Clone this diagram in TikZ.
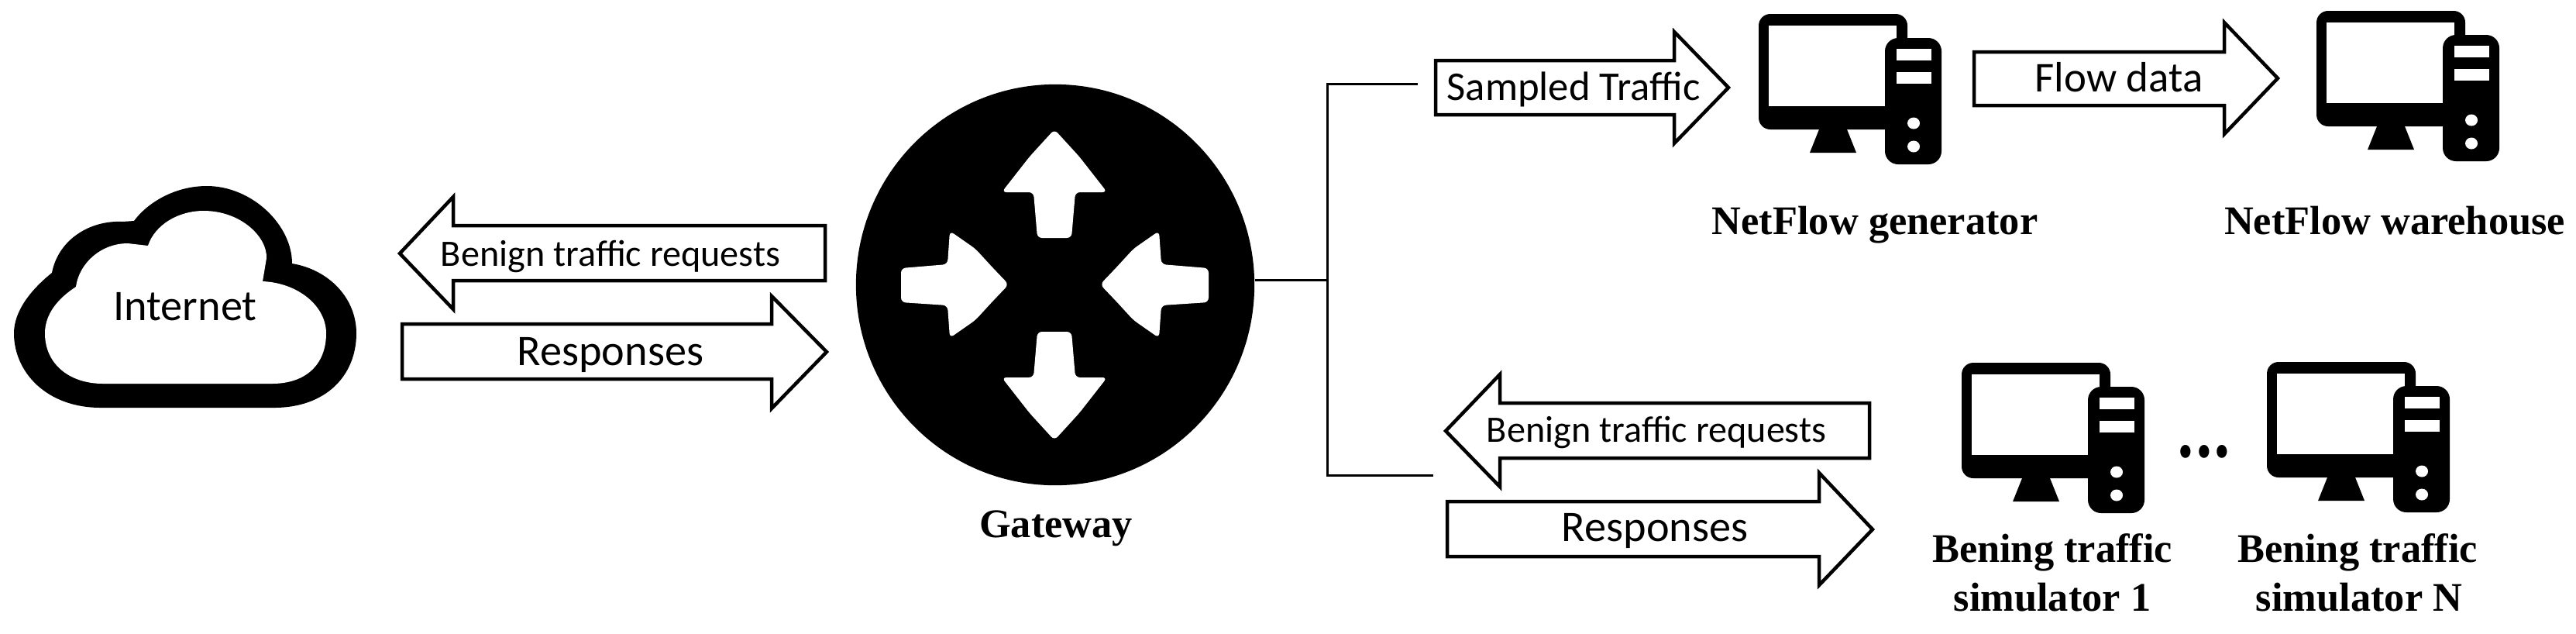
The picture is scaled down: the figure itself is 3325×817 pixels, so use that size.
\documentclass[tikz,border=0pt]{standalone}
\usepackage{fontspec}
\usepackage{graphicx}
\usetikzlibrary{shapes.geometric}
\newfontfamily\labelsans{Carlito}
\newfontfamily\labelserif{Liberation Serif}[BoldFont={Liberation Serif Bold}]
\tikzset{
  flowarrow/.style={draw=black,fill=white,line width=0.045cm,miter limit=10},
  conn/.style={draw=black,line width=0.03cm},
  sanslabel/.style={anchor=base,inner sep=0pt,text=black,font=\labelsans\fontsize{#1}{18}\selectfont},
  seriflabel/.style={anchor=base,inner sep=0pt,text=black,font=\labelserif\bfseries\fontsize{14.9}{18}\selectfont},
  whitearrow/.style={fill=white,draw=none,rounded corners=0.06cm},
  computer/.pic={
    \fill[black,rounded corners=0.15cm] (0,0) rectangle (192,149);
    \fill[white] (13,15) rectangle (178,119);
    \fill[black] (78,149) -- (114,149) -- (126,179) -- (66,179) -- cycle;
    \fill[black,rounded corners=0.17cm] (163,31) rectangle (236,194);
    \fill[white] (178,45) rectangle (223,60);
    \fill[white] (178,75) rectangle (223,90);
    \fill[white] (200,141) ellipse [x radius=8,y radius=7.5];
    \fill[white] (200,171) ellipse [x radius=8,y radius=7.5];
  }
}
\begin{document}
\begin{tikzpicture}[x=0.01cm,y=-0.01cm]
\useasboundingbox (0,0) rectangle (3325,817);
% cloud
\fill[black] (130,526) .. controls (60,526) and (18,480) .. (18,430)
  .. controls (18,400) and (42,372) .. (67,352)
  .. controls (75,310) and (115,284) .. (158,286) -- (173,285)
  .. controls (190,262) and (225,240) .. (267,240)
  .. controls (325,240) and (377,290) .. (377,340)
  .. controls (425,348) and (460,385) .. (460,430)
  .. controls (460,485) and (420,526) .. (354,526) -- cycle;
\fill[white] (133,495) .. controls (90,495) and (58,470) .. (58,430)
  .. controls (58,405) and (75,385) .. (98,370)
  .. controls (102,340) and (130,314) .. (165,314) -- (191,317)
  .. controls (200,290) and (230,272) .. (263,272)
  .. controls (310,272) and (345,305) .. (344,333) -- (339,363)
  .. controls (385,365) and (421,395) .. (421,430)
  .. controls (421,470) and (395,495) .. (351,495) -- cycle;
\node[sanslabel=16] (internet) at (239,413) {Internet};
% left arrows
\draw[flowarrow] (516,327) -- (585,254) -- (585,291) -- (1065,291) -- (1065,362) -- (585,362) -- (585,399) -- cycle;
\node[sanslabel=13.7] (reqA) at (788,343) {Benign traffic requests};
\draw[flowarrow] (519,418) -- (996,418) -- (996,382) -- (1067,454) -- (996,527) -- (996,489) -- (519,489) -- cycle;
\node[sanslabel=16] (respA) at (788,471) {Responses};
% gateway
\node[ellipse,fill=black,draw=none,minimum width=5.14cm,minimum height=5.17cm,inner sep=0pt] (gw) at (1362,367.5) {};
\fill[whitearrow] (1361,167) -- (1393,202) -- (1429,248) -- (1388,248) -- (1383,307) -- (1339,307) -- (1334,248) -- (1293,248) -- (1329,202) -- cycle;
\fill[whitearrow] (1361,568) -- (1393,533) -- (1429,487) -- (1388,487) -- (1383,428) -- (1339,428) -- (1334,487) -- (1293,487) -- (1329,533) -- cycle;
\fill[whitearrow] (1302,367) -- (1281,345) -- (1259,321) -- (1226,298) -- (1223,341) -- (1163,346) -- (1163,390) -- (1223,394) -- (1226,436) -- (1259,413) -- (1281,389) -- cycle;
\fill[whitearrow] (1420,367) -- (1441,345) -- (1463,321) -- (1496,298) -- (1499,341) -- (1560,346) -- (1560,390) -- (1499,394) -- (1496,436) -- (1463,413) -- (1441,389) -- cycle;
\node[seriflabel] (gwlabel) at (1363,693) {Gateway};
% connectors
\coordinate (junction) at (1713,361);
\coordinate (upperEnd) at (1830,108);
\coordinate (lowerEnd) at (1850,613);
\draw[conn] (gw.east |- junction) -- (junction);
\draw[conn] (upperEnd) -| (junction);
\draw[conn] (lowerEnd) -| (junction);
% upper right
\draw[flowarrow] (1853,78) -- (2161,78) -- (2161,41) -- (2231,113) -- (2161,185) -- (2161,148) -- (1853,148) -- cycle;
\node[sanslabel=15] (sampled) at (2031,129) {Sampled Traffic};
\pic (genpc) at (2270,18) {computer};
\draw[flowarrow] (2548,67) -- (2871,67) -- (2871,29) -- (2940,101) -- (2871,173) -- (2871,136) -- (2548,136) -- cycle;
\node[sanslabel=15.6] (flowdata) at (2735,118) {Flow data};
\pic (warepc) at (2990,14) {computer};
\node[seriflabel] (genlabel) at (2420,302) {NetFlow generator};
\node[seriflabel] (warelabel) at (3091,302) {NetFlow warehouse};
% lower right
\draw[flowarrow] (1866,556) -- (1936,483) -- (1936,520) -- (2413,520) -- (2413,591) -- (1936,591) -- (1936,628) -- cycle;
\node[sanslabel=13.7] (reqB) at (2138,570) {Benign traffic requests};
\draw[flowarrow] (1868,647) -- (2348,647) -- (2348,610) -- (2417,683) -- (2348,755) -- (2348,718) -- (1868,718) -- cycle;
\node[sanslabel=16] (respB) at (2136,698) {Responses};
\pic (simonepc) at (2532,468) {computer};
\pic (simnpc) at (2926,467) {computer};
\node[anchor=base,inner sep=0pt,font=\labelsans\bfseries\fontsize{24}{24}\selectfont] (dots) at (2845,590) {\scalebox{1.05}[1.35]{...}};
\node[seriflabel] (simoneA) at (2649,725) {Bening traffic};
\node[seriflabel] (simoneB) at (2649,788) {simulator 1};
\node[seriflabel] (simnA) at (3043,725) {Bening traffic};
\node[seriflabel] (simnB) at (3045,788) {simulator N};
\end{tikzpicture}
\end{document}
